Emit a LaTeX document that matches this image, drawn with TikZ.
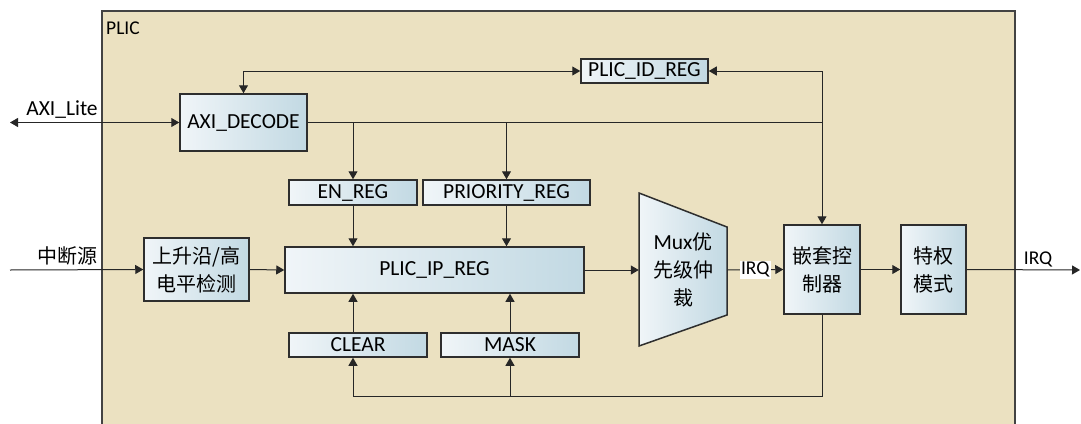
\documentclass[tikz,border=0pt]{standalone}
\usepackage{fontspec}
\setmainfont{Carlito}
\newfontfamily\cjk{Noto Sans CJK SC}[Scale=0.93]
\usetikzlibrary{arrows.meta,positioning,calc}
\definecolor{plicbg}{HTML}{EBE1C1}
\definecolor{boxL}{HTML}{F0F5F8}
\definecolor{boxR}{HTML}{C2D9E3}
\definecolor{edge}{HTML}{2E2E2E}
\newcommand\txtf{\fontsize{21.5}{28}\selectfont}
\newcommand\lblf{\fontsize{19.5}{22}\selectfont}
\begin{document}
\begin{tikzpicture}[x=1pt, y=-1pt,
    every node/.style={font=\txtf, inner sep=0pt},
    blk/.style={draw=edge, line width=1.5pt, left color=boxL, right color=boxR, align=center},
    wire/.style={draw=black!85, line width=1pt},
    >={Triangle[length=8pt,width=9pt]}]
\clip (0,0) rectangle (1081,423);
\fill[white] (0,0) rectangle (1081,423);
% PLIC frame
\draw[draw=edge!90, line width=1.6pt, fill=plicbg] (102,11) rectangle (1015,440);
\node[anchor=west, font=\lblf] (plic) at (106,28) {PLIC};

% blocks
\node[blk, minimum width=127, minimum height=57] (axi) at (243.5,122.5) {AXI\_DECODE};
\node[blk, minimum width=127, minimum height=24] (idreg) at (644.5,71) {PLIC\_ID\_REG};
\node[blk, minimum width=128, minimum height=25] (enreg) at (353,192.5) {EN\_REG};
\node[blk, minimum width=167, minimum height=25] (prireg) at (506.5,192.5) {PRIORITY\_REG};
\node[blk, minimum width=299, minimum height=46] (ipreg) at (434.5,270) {PLIC\_IP\_REG};
\node[blk, minimum width=105, minimum height=63] (det) at (196.5,269.5) {\cjk 上升沿/高\\\cjk 电平检测};
\node[blk, minimum width=138, minimum height=24] (clear) at (358,345) {CLEAR};
\node[blk, minimum width=138, minimum height=24] (mask) at (510,345) {MASK};
\draw[draw=edge, line width=1.5pt, left color=boxL, right color=boxR]
  (639,193) -- (727,227) -- (727,315) -- (639,346) -- cycle;
\node[minimum width=88, minimum height=153, align=center] (mux) at (683,270)
  {Mux{\cjk 优}\\\cjk 先级仲\\\cjk 裁};
\node[blk, minimum width=76, minimum height=89] (ctrl) at (822,269.5) {\cjk 嵌套控\\\cjk 制器};
\node[blk, minimum width=65, minimum height=89] (priv) at (933.5,269.5) {\cjk 特权\\\cjk 模式};

% outside ends
\coordinate (axiport) at (10,122.5);
\coordinate (srcin) at (10,270);
\coordinate (irqout) at (1080,270);
\coordinate (fbl) at (353,396);

% bus
\draw[wire,<->] (axiport) -- (axi.west);
\node[anchor=south] (axilbl) at (62,119) {AXI\_Lite};
\draw[wire,<->] (axi.north) |- (idreg.west);
\draw[wire,<->] (ctrl.north) |- (idreg.east);
\draw[wire] (axi.east) -- (ctrl.north |- axi.east);
\draw[wire,->] (enreg.north |- axi.east) -- (enreg.north);
\draw[wire,->] (prireg.north |- axi.east) -- (prireg.north);
\draw[wire,->] (enreg.south) -- (enreg.south |- ipreg.north);
\draw[wire,->] (prireg.south) -- (prireg.south |- ipreg.north);
\draw[wire,->] (enreg |- clear.north) -- (enreg |- ipreg.south);
\draw[wire,->] (mask.north) -- (mask.north |- ipreg.south);

% interrupt path
\draw[wire,->] (srcin) -- (det.west) node[pos=0.43, above=4pt, font=\txtf\cjk] {中断源};
\draw[wire,->] (det.east) -- (ipreg.west);
\draw[wire,->] (ipreg.east) -- (mux.west);
\draw[wire,->] (mux.east) -- (ctrl.west)
  node[midway, fill=white, inner sep=1.5pt, font=\lblf] {IRQ};
\draw[wire,->] (ctrl.east) -- (priv.west);
\draw[wire,->] (priv.east) -- (irqout) node[pos=0.63, above=2pt, font=\lblf] {IRQ};

% feedback
\draw[wire,->] (ctrl.south) |- (fbl) -- (fbl |- clear.south);
\draw[wire,->] (mask.south |- fbl) -- (mask.south);
\end{tikzpicture}
\end{document}
